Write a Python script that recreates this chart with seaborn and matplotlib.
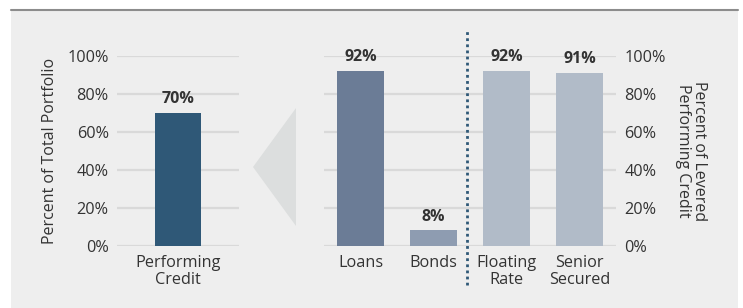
import matplotlib
matplotlib.use("Agg")
import matplotlib.pyplot as plt
import seaborn as sns
import pandas as pd
from matplotlib.patches import Rectangle, Polygon
from matplotlib.lines import Line2D

# data
left_cats = ["Performing\nCredit"]
left_vals = [70]
right_cats = ["Loans", "Bonds", "Floating\nRate", "Senior\nSecured"]
right_vals = [92, 8, 92, 91]
yticks = [0, 20, 40, 60, 80, 100]
ytick_labels = ["0%", "20%", "40%", "60%", "80%", "100%"]

left_colors = ["#2f5877"]
right_colors = ["#6b7c96", "#8e9cb1", "#b1bbc8", "#b1bbc8"]

sns.set_style("white")
plt.rcParams["font.family"] = ["Open Sans", "DejaVu Sans"]
txt = "#333333"
fs = 11.7

W, H = 743, 308
fig = plt.figure(figsize=(W / 100, H / 100), dpi=100)
fig.patch.set_facecolor("white")

# grey panel and top rule
fig.patches.append(Rectangle((11 / W, 0), 727 / W, (H - 10) / H, transform=fig.transFigure,
                             facecolor="#eeeeee", edgecolor="none", zorder=-3))
fig.lines.append(Line2D([11 / W, 738 / W], [(H - 10) / H] * 2, transform=fig.transFigure,
                        color="#8c8c8c", lw=1.5, zorder=-2))

# arrow triangle
fig.patches.append(Polygon([(253 / W, (H - 167) / H), (296 / W, (H - 108) / H), (296 / W, (H - 226) / H)],
                           closed=True, transform=fig.transFigure, facecolor="#dcdede",
                           edgecolor="none", zorder=-2))


def px_axes(x0, x1, y0, y1):
    return fig.add_axes([x0 / W, (H - y1) / H, (x1 - x0) / W, (y1 - y0) / H])


def style(ax):
    ax.set_facecolor("none")
    for s in ax.spines.values():
        s.set_visible(False)
    ax.set_ylim(0, 100)
    ax.set_yticks(yticks)
    ax.set_yticklabels(ytick_labels)
    ax.grid(axis="y", color="#d9d9d9", lw=1.6, zorder=0)
    ax.set_axisbelow(True)
    ax.tick_params(axis="y", length=0, labelsize=fs, colors=txt, pad=6)
    ax.tick_params(axis="x", length=0, labelsize=fs, colors=txt, pad=7)
    ax.set_xlabel("")


# left chart
axl = px_axes(117, 239, 56, 245.5)
dl = pd.DataFrame({"cat": left_cats, "val": left_vals})
sns.barplot(data=dl, x="cat", y="val", hue="cat", palette=left_colors, width=0.63,
            legend=False, ax=axl, saturation=1, linewidth=0)
style(axl)
axl.set_xlim(-0.835, 0.835)
axl.set_ylabel("Percent of Total Portfolio", fontsize=11.5, color=txt, labelpad=7)
for i, v in enumerate(left_vals):
    axl.text(i, v + 3, f"{v}%", ha="center", va="bottom", fontsize=11.5, fontweight="bold", color=txt)

# right chart
axr = px_axes(324, 616, 56, 245.5)
dr = pd.DataFrame({"cat": right_cats, "val": right_vals})
sns.barplot(data=dr, x="cat", y="val", hue="cat", palette=right_colors, width=0.64,
            legend=False, ax=axr, saturation=1, linewidth=0)
style(axr)
axr.set_xlim(-0.5, 3.5)
axr.yaxis.tick_right()
axr.yaxis.set_label_position("right")
axr.set_ylabel("Percent of Levered\nPerforming Credit", fontsize=11.5, color=txt,
               rotation=-90, labelpad=30, linespacing=1.0)
for i, v in enumerate(right_vals):
    axr.text(i, v + 3, f"{v}%", ha="center", va="bottom", fontsize=11.5, fontweight="bold", color=txt)

# dotted divider between the two groups
axr.plot([1.46, 1.46], [-21, 114], linestyle=(0, (1, 1.2)), color="#2f5877", lw=2,
         clip_on=False, zorder=3)

for ax in (axl, axr):
    for lab in ax.get_xticklabels():
        lab.set_linespacing(1.05)

fig.savefig("out.png", dpi=100)
